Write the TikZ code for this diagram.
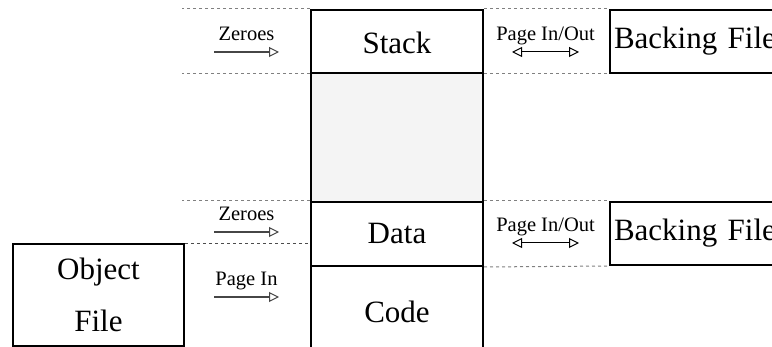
\documentclass[tikz,border=0pt]{standalone}
\usepackage{fontspec}
\setmainfont{Liberation Serif}
\usetikzlibrary{arrows.meta}
\begin{document}
\begin{tikzpicture}[x=1pt,y=-1pt,
  box/.style={draw=black,line width=2pt,inner sep=0pt,anchor=north west},
  sep/.style={draw=gray,line width=1pt,dash pattern=on 3pt off 3pt},
  sepdark/.style={draw=gray!60!black,line width=0.8pt,dash pattern=on 3pt off 3pt},
  big/.style={font=\fontsize{31}{52}\selectfont},
  lbl/.style={font=\fontsize{20.5}{24}\selectfont,inner sep=0pt,text depth=0pt,above=11pt},
  flow/.style={draw=gray!55!black,line width=1.3pt,-{Triangle[open,length=10pt,width=10pt,line width=1pt]}},
  swap/.style={draw=black,line width=1pt,{Triangle[open,length=10pt,width=10pt]}-{Triangle[open,length=10pt,width=10pt]}},
  ]
\useasboundingbox (0,0) rectangle (772,347);
\clip (0,0) rectangle (772,347);
% central column
\node[box,fill=gray!9,minimum width=172pt,minimum height=129pt] (gap) at (310,72) {};
\node[box,big,minimum width=172pt,minimum height=63pt,text depth=0pt] (stack) at (310,9) {\raisebox{-3pt}{Stack}};
\node[box,big,minimum width=172pt,minimum height=64pt] (data) at (310,201) {\raisebox{-2pt}{Data}};
\node[box,big,minimum width=172pt,minimum height=92pt] (code) at (310,265) {Code};
% backing files
\node[box,big,minimum width=200pt,minimum height=63pt,text width=196pt,align=left] (back1) at (609,9) {\hspace*{2pt}\raisebox{-2pt}{Backing File}};
\node[box,big,minimum width=200pt,minimum height=63pt,text width=196pt,align=left] (back2) at (609,201) {\hspace*{2pt}\raisebox{-2pt}{Backing File}};
% object file
\node[box,big,minimum width=171pt,minimum height=102pt,align=center] (obj) at (12,243) {Object\\File};
% dashed separators
\draw[sep] (stack.north west) -- ++(-128,0);
\draw[sep] (stack.south west) -- ++(-128,0);
\draw[sep] (stack.north east) -- (back1.north west);
\draw[sep] (stack.south east) -- (back1.south west);
\draw[sep] (data.north west) -- ++(-128,0);
\draw[sepdark] (obj.north east) -- (obj.north east -| data.west);
\draw[sep] (data.north east) -- (back2.north west);
\draw[sep] (data.south east) -- (back2.south west);
% arrows
\coordinate (z1a) at (214,52); \coordinate (z1b) at (279,52);
\coordinate (p1a) at (512,52); \coordinate (p1b) at (579,52);
\coordinate (z2a) at (214,232); \coordinate (z2b) at (279,232);
\coordinate (p2a) at (512,243); \coordinate (p2b) at (579,243);
\coordinate (pia) at (214,297); \coordinate (pib) at (279,297);
\draw[flow] (z1a) -- node[lbl]{Zeroes} (z1b);
\draw[swap] (p1a) -- node[lbl]{Page In/Out} (p1b);
\draw[flow] (z2a) -- node[lbl]{Zeroes} (z2b);
\draw[swap] (p2a) -- node[lbl]{Page In/Out} (p2b);
\draw[flow] (pia) -- node[lbl]{Page In} (pib);
\end{tikzpicture}
\end{document}
